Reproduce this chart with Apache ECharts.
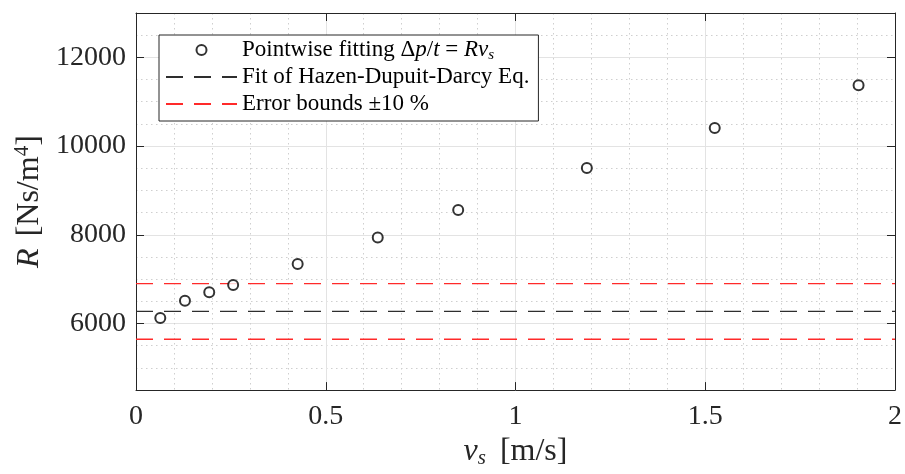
<!DOCTYPE html>
<html><head><meta charset="utf-8">
<script src="https://cdn.jsdelivr.net/npm/echarts@6/dist/echarts.min.js"></script>
<style>html,body{margin:0;padding:0;background:#fff}#c{width:905px;height:474px}</style>
</head><body><div id="c"></div>
<script>
// Data
const vs = [0.064, 0.129, 0.193, 0.256, 0.426, 0.637, 0.849, 1.188, 1.525, 1.904];
const R  = [6127, 6513, 6707, 6870, 7344, 7940, 8557, 9507, 10408, 11373];
const fitR = 6273;
const upperR = 6900;
const lowerR = 5646;
const xRange = [0, 2];
const yRange = [4500, 13000];
const xTicks = [0, 0.5, 1, 1.5, 2];
const yTicks = [6000, 8000, 10000, 12000];
const names = ['Pointwise fitting', 'Fit of Hazen-Dupuit-Darcy Eq.', 'Error bounds ±10 %'];

const FONT = 'Liberation Serif';
const AX = '#262626';
const RED = '#ff2a2a';
const chart = echarts.init(document.getElementById('c'));
const pts = vs.map((v, i) => [v, R[i]]);
const hline = y => [[xRange[0], y], [xRange[1], y]];

const dash = [17, 11];
const baseX = {
  type: 'value', min: xRange[0], max: xRange[1], interval: 0.5,
  axisLine: {show: true, onZero: false, lineStyle: {color: AX, width: 1}},
  axisTick: {show: true, inside: true, length: 8, lineStyle: {color: AX}},
  minorTick: {show: false, splitNumber: 5}
};
const baseY = {
  type: 'value', min: yRange[0], max: yRange[1], minInterval: 2000, maxInterval: 2000,
  axisLine: {show: true, onZero: false, lineStyle: {color: AX, width: 1}},
  axisTick: {show: true, inside: true, length: 8, lineStyle: {color: AX}},
  minorTick: {show: false, splitNumber: 4}
};
const NF = 32;

chart.setOption({
  animation: false,
  backgroundColor: '#fff',
  grid: {left: 136, top: 13, right: 8, bottom: 81, containLabel: false},
  xAxis: [
    Object.assign({}, baseX, {
      position: 'bottom',
      name: '{i|v}{sub|s}{n| [m/s]}', nameLocation: 'middle', nameGap: 42,
      nameTextStyle: {fontFamily: FONT, fontSize: NF, color: AX,
        rich: {
          i: {fontFamily: FONT, fontSize: NF, fontStyle: 'italic', color: AX, lineHeight: 34},
          sub: {fontFamily: FONT, fontSize: 21, fontStyle: 'italic', color: AX, lineHeight: 14, verticalAlign: 'bottom', padding: [0, 6, 0, 0]},
          n: {fontFamily: FONT, fontSize: NF, color: AX, lineHeight: 34}
        }},
      axisLabel: {show: true, margin: 13, fontFamily: FONT, fontSize: 28, color: AX,
        formatter: v => xTicks.includes(v) ? String(v) : ''},
      splitLine: {show: true, lineStyle: {color: '#e3e3e3', width: 1}},
      minorSplitLine: {show: true, lineStyle: {color: '#cfcfcf', width: 1, type: [1.5, 3.5]}}
    }),
    Object.assign({}, baseX, {
      position: 'top', axisLabel: {show: false}, splitLine: {show: false}
    })
  ],
  yAxis: [
    Object.assign({}, baseY, {
      position: 'left',
      name: '{i|R}{n| [Ns/m}{sup|4}{n|]}', nameLocation: 'middle', nameGap: 84,
      nameTextStyle: {fontFamily: FONT, fontSize: NF, color: AX,
        rich: {
          i: {fontFamily: FONT, fontSize: NF, fontStyle: 'italic', color: AX, lineHeight: 34, padding: [0, 4, 0, 0]},
          sup: {fontFamily: FONT, fontSize: 21, color: AX, lineHeight: 18, verticalAlign: 'top'},
          n: {fontFamily: FONT, fontSize: NF, color: AX, lineHeight: 34}
        }},
      axisLabel: {show: true, margin: 10, fontFamily: FONT, fontSize: 28, color: AX,
        formatter: v => yTicks.includes(v) ? String(v) : ''},
      splitLine: {show: true, lineStyle: {color: '#e3e3e3', width: 1}},
      minorSplitLine: {show: true, lineStyle: {color: '#cfcfcf', width: 1, type: [1.5, 3.5]}}
    }),
    Object.assign({}, baseY, {
      position: 'right', axisLabel: {show: false}, splitLine: {show: false}
    })
  ],
  legend: {
    orient: 'vertical', left: 159, top: 35,
    backgroundColor: '#fff', borderColor: AX, borderWidth: 1,
    padding: [2, 9, 4, 6], itemGap: 1, itemWidth: 71, itemHeight: 10,
    selectedMode: false,
    data: [
      {name: names[0]},
      {name: names[1], itemStyle: {opacity: 0}},
      {name: names[2], itemStyle: {opacity: 0}}
    ],
    textStyle: {fontFamily: FONT, fontSize: 23, color: '#000', lineHeight: 26,
      rich: {
        n: {fontFamily: FONT, fontSize: 23, color: '#000', lineHeight: 26},
        i: {fontFamily: FONT, fontSize: 23, fontStyle: 'italic', color: '#000', lineHeight: 26},
        sub: {fontFamily: FONT, fontSize: 15, fontStyle: 'italic', color: '#000', lineHeight: 11, verticalAlign: 'bottom'}
      }},
    formatter: name => name === names[0]
      ? '{n|Pointwise fitting Δ}{i|p}{n|/}{i|t}{n| = }{i|Rv}{sub|s}'
      : '{n|' + name + '}'
  },
  series: [
    {
      name: names[0], type: 'scatter', data: pts, symbol: 'emptyCircle', symbolSize: 10,
      itemStyle: {color: '#000', borderColor: '#000', borderWidth: 2}, z: 5
    },
    {
      name: names[1], type: 'line', data: hline(fitR), symbol: 'none',
      lineStyle: {color: '#2e2e2e', width: 1.3, type: dash}, itemStyle: {color: '#2e2e2e'}
    },
    {
      name: names[2], type: 'line', data: hline(upperR), symbol: 'none',
      lineStyle: {color: RED, width: 1.3, type: dash}, itemStyle: {color: RED}
    },
    {
      name: names[2], type: 'line', data: hline(lowerR), symbol: 'none',
      lineStyle: {color: RED, width: 1.3, type: dash}, itemStyle: {color: RED}
    }
  ]
});
</script></body></html>
